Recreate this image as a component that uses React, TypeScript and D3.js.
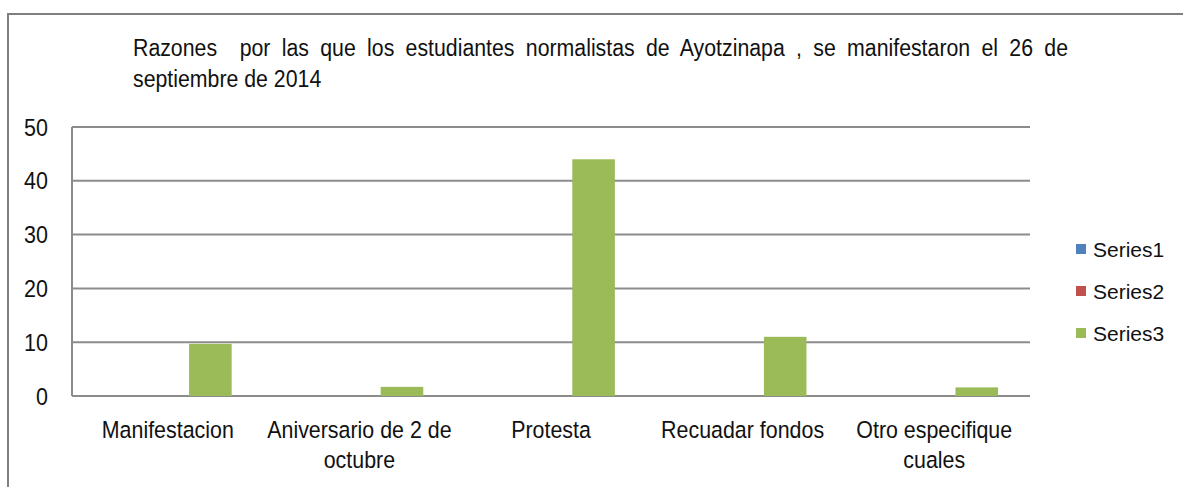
import React, { useLayoutEffect, useRef } from "react";
import * as d3 from "d3";

const categories = [
  ["Manifestacion"],
  ["Aniversario de 2 de", "octubre"],
  ["Protesta"],
  ["Recuadar fondos"],
  ["Otro especifique", "cuales"],
];
const seriesNames = ["Series1", "Series2", "Series3"];
const series1 = [0, 0, 0, 0, 0];
const series2 = [0, 0, 0, 0, 0];
const series3 = [9.7, 1.7, 44, 11, 1.6];
const yTicks = [0, 10, 20, 30, 40, 50];
const colors = ["#4F81BD", "#C0504D", "#9BBB59"];
const titleLines = [
  "Razones  por las que los estudiantes normalistas de Ayotzinapa , se manifestaron el 26 de",
  "septiembre de 2014",
];

export default function App() {
  const W = 1183, H = 487;
  const left = 72, right = 1030, top = 127, bottom = 396;
  const font = "'Liberation Sans', Arial, sans-serif";
  const sy = 1.12;
  const titleRef = useRef<SVGTextElement>(null);
  useLayoutEffect(() => {
    const el = titleRef.current;
    if (!el) return;
    el.setAttribute("word-spacing", "0");
    const len = el.getComputedTextLength();
    const spaces = (titleLines[0].match(/ /g) || []).length;
    const extra = Math.max(0, (935 - len) / spaces);
    el.setAttribute("word-spacing", String(extra));
  }, []);
  const y = d3.scaleLinear().domain([0, 50]).range([bottom, top]);
  const x0 = d3.scaleBand().domain(categories.map((_, i) => String(i))).range([left, right]).paddingInner(0).paddingOuter(0);
  const x1 = d3.scaleBand().domain(seriesNames).range([0, x0.bandwidth() * (3 / 4.5)]).padding(0);
  const data = [series1, series2, series3];
  const grid = "#8c8c8c";
  const T = (x: number, yy: number) => `translate(${x},${yy}) scale(1,${sy})`;
  return (
    <svg width={W} height={H} style={{ position: "absolute", left: 0, top: 0 }} fontFamily={font}>
      <rect x={0} y={0} width={W} height={H} fill="#fff" />
      <path d={`M8,${H + 5} L8,14 L${W + 5},14`} fill="none" stroke="#7f7f7f" strokeWidth={2} />
      <text ref={titleRef} transform={T(133, 56)} fontSize={21.3} fill="#111" style={{ whiteSpace: "pre" }}>{titleLines[0]}</text>
      <text transform={T(133, 87)} fontSize={21.3} fill="#111">{titleLines[1]}</text>
      {yTicks.map((t) => (
        <g key={t}>
          <line x1={left} x2={right} y1={y(t)} y2={y(t)} stroke={grid} strokeWidth={2} />
          <text transform={T(48, y(t))} dy="0.36em" textAnchor="end" fontSize={21.5} fill="#111">{t}</text>
        </g>
      ))}
      <line x1={left} x2={left} y1={top} y2={bottom} stroke={grid} strokeWidth={2} />
      {categories.map((c, i) => {
        const gx = (x0(String(i)) as number) + x0.bandwidth() * (0.75 / 4.5);
        return (
          <g key={i}>
            {data.map((s, si) => {
              const v = s[i];
              if (v <= 0) return null;
              return (
                <rect key={si} x={gx + (x1(seriesNames[si]) as number)} width={x1.bandwidth()} y={y(v)} height={y(0) - y(v)} fill={colors[si]} />
              );
            })}
            {c.map((line, li) => (
              <text key={li} transform={T((x0(String(i)) as number) + x0.bandwidth() / 2, 438 + li * 30)} textAnchor="middle" fontSize={21.4} fill="#111">{line}</text>
            ))}
          </g>
        );
      })}
      {seriesNames.map((s, i) => (
        <g key={s} transform={`translate(1076,${249 + i * 42})`}>
          <rect x={0} y={-5} width={10} height={10} fill={colors[i]} />
          <text x={17} y={0} dy="0.36em" fontSize={21} fill="#111">{s}</text>
        </g>
      ))}
    </svg>
  );
}
